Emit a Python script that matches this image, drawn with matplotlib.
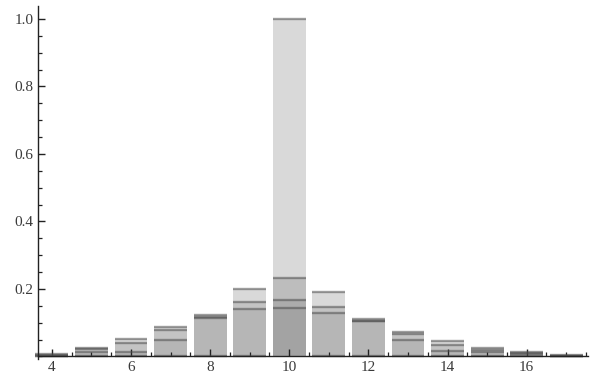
import numpy as np
import matplotlib
matplotlib.use("Agg")
import matplotlib.pyplot as plt
from matplotlib.ticker import MultipleLocator, FixedLocator

# Data: overlaid histograms (bin centres and heights of each series)
bins = [4, 5, 6, 7, 8, 9, 10, 11, 12, 13, 14, 15, 16, 17]
series_a = [0.008, 0.026, 0.052, 0.087, 0.122, 0.200, 0.234, 0.190, 0.110, 0.072, 0.045, 0.025, 0.013, 0.004]
series_b = [0.004, 0.022, 0.040, 0.078, 0.118, 0.160, 0.168, 0.148, 0.106, 0.068, 0.034, 0.020, 0.010, 0.002]
series_c = [0.000, 0.014, 0.012, 0.049, 0.115, 0.142, 0.145, 0.130, 0.104, 0.048, 0.016, 0.014, 0.006, 0.000]
series_d = [0.000, 0.000, 0.000, 0.000, 0.000, 0.000, 1.000, 0.000, 0.000, 0.000, 0.000, 0.000, 0.000, 0.000]

x_major = [4, 6, 8, 10, 12, 14, 16]
y_major = [0.2, 0.4, 0.6, 0.8, 1.0]

plt.rcParams['font.family'] = ['Liberation Serif', 'DejaVu Serif']

fig = plt.figure(figsize=(5.90, 3.77), dpi=100)
ax = fig.add_axes([38/590, 18.5/377, 550/590, 353/377])

width = 0.83
x = np.array(bins, dtype=float)
styles = [
    (series_a, 167/255, 0.43),
    (series_b, 167/255, 0.43),
    (series_c, 167/255, 0.43),
    (series_d, 109/255, 0.26),
]
for s, g, a in styles:
    v = np.array(s)
    ax.bar(x, v, width=width, color=(g, g, g), alpha=a, linewidth=0, zorder=1)
    ax.hlines(v, x - width/2, x + width/2, colors=(0.30, 0.30, 0.30),
              alpha=0.55, linewidth=1.7, zorder=2, clip_on=False)

ax.set_xlim(3.65, 17.55)
ax.set_ylim(-0.006, 1.04)

for side in ['top', 'right']:
    ax.spines[side].set_visible(False)
ax.spines['bottom'].set_position(('data', 0))
ax.spines['left'].set_position(('data', 3.65))
for side in ['bottom', 'left']:
    ax.spines[side].set_color('#222222')
    ax.spines[side].set_linewidth(1.0)
    ax.spines[side].set_zorder(3)

ax.xaxis.set_major_locator(FixedLocator(x_major))
ax.xaxis.set_minor_locator(MultipleLocator(0.5))
ax.yaxis.set_major_locator(FixedLocator(y_major))
ax.yaxis.set_minor_locator(MultipleLocator(0.05))
ax.set_xticklabels([str(v) for v in x_major])
ax.set_yticklabels([f"{v:.1f}" for v in y_major])

ax.tick_params(axis='both', which='major', direction='in', length=5, width=1.0,
               color='#222222', labelsize=11, labelcolor='#3a3a3a', pad=3)
ax.tick_params(axis='both', which='minor', direction='in', length=3, width=0.9,
               color='#222222')
ax.tick_params(axis='x', which='major', pad=3)

fig.savefig("out.png", dpi=100)
